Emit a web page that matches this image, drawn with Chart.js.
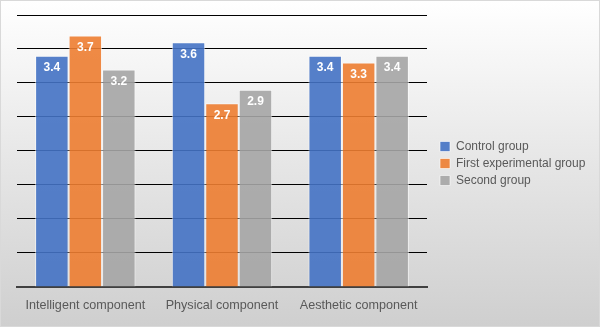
<!DOCTYPE html>
<html>
<head>
<meta charset="utf-8">
<script src="https://cdn.jsdelivr.net/npm/chart.js@4"></script>
<style>
  html, body { margin: 0; padding: 0; }
  #wrap {
    width: 598px; height: 325px;
    border: 1px solid #d9d9d9;
    background: linear-gradient(to bottom, #ffffff 0%, #e6e6e6 50%, #cfcfcf 100%);
  }
</style>
</head>
<body>
<div id="wrap"><canvas id="barChart" width="598" height="325"></canvas></div>
<script>
// categories and series
var categories = ['Intelligent component', 'Physical component', 'Aesthetic component'];
var controlGroup = [3.4, 3.6, 3.4];
var firstExperimental = [3.7, 2.7, 3.3];
var secondGroup = [3.2, 2.9, 3.4];

// white value labels inside top of bars
var valueLabels = {
    id: 'valueLabels',
    afterDatasetsDraw: function (chart) {
        var ctx = chart.ctx;
        ctx.save();
        ctx.font = 'bold 12px "Liberation Sans", Arial, sans-serif';
        ctx.fillStyle = '#ffffff';
        ctx.textAlign = 'center';
        ctx.textBaseline = 'top';
        chart.data.datasets.forEach(function (ds, i) {
            chart.getDatasetMeta(i).data.forEach(function (bar, j) {
                ctx.fillText(ds.data[j].toFixed(1), bar.x, bar.y + 6);
            });
        });
        ctx.restore();
    }
};

// keep the legend column a fixed width and nudge it like the original
var legendPlace = {
    id: 'legendPlace',
    afterInit: function (chart) {
        var lg = chart.legend;
        var origFit = lg.fit;
        lg.fit = function () {
            origFit.call(this);
            this.width = 172;
            this.right = this.left + 172;
        };
    },
    afterLayout: function (chart) {
        var lg = chart.legend;
        var dx = 8, dy = -2;
        lg.left += dx; lg.right += dx;
        lg.top += dy; lg.bottom += dy;
        (lg.legendHitBoxes || []).forEach(function (hb) {
            hb.left += dx; hb.top += dy;
        });
    }
};

var ctx = document.getElementById('barChart').getContext('2d');
var chart = new Chart(ctx, {
    type: 'bar',
    data: {
        labels: categories,
        datasets: [{
            label: 'Control group',
            data: controlGroup,
            backgroundColor: 'rgba(68,114,196,0.9)',
            borderColor: 'rgba(255,255,255,0.6)',
            borderWidth: 1
        }, {
            label: 'First experimental group',
            data: firstExperimental,
            backgroundColor: 'rgba(237,125,49,0.9)',
            borderColor: 'rgba(255,255,255,0.6)',
            borderWidth: 1
        }, {
            label: 'Second group',
            data: secondGroup,
            backgroundColor: 'rgba(165,165,165,0.9)',
            borderColor: 'rgba(255,255,255,0.6)',
            borderWidth: 1
        }]
    },
    options: {
        responsive: false,
        animation: false,
        layout: { padding: { left: 16, top: 14, right: 0, bottom: 10 } },
        datasets: { bar: { categoryPercentage: 0.735, barPercentage: 1.0 } },
        plugins: {
            tooltip: { enabled: false },
            legend: {
                position: 'right',
                labels: {
                    boxWidth: 10,
                    boxHeight: 10,
                    padding: 5,
                    color: '#595959',
                    font: { family: '"Liberation Sans", Arial, sans-serif', size: 12 }
                }
            }
        },
        scales: {
            x: {
                grid: { display: false },
                border: { display: true, color: '#404040', width: 2 },
                ticks: {
                    color: '#595959',
                    padding: 3,
                    font: { family: '"Liberation Sans", Arial, sans-serif', size: 12.6 }
                }
            },
            y: {
                min: 0,
                max: 4,
                ticks: { display: false, stepSize: 0.5 },
                grid: { color: '#000000', lineWidth: 1, drawTicks: false },
                border: { display: false }
            }
        }
    },
    plugins: [legendPlace, valueLabels]
});
</script>
</body>
</html>
